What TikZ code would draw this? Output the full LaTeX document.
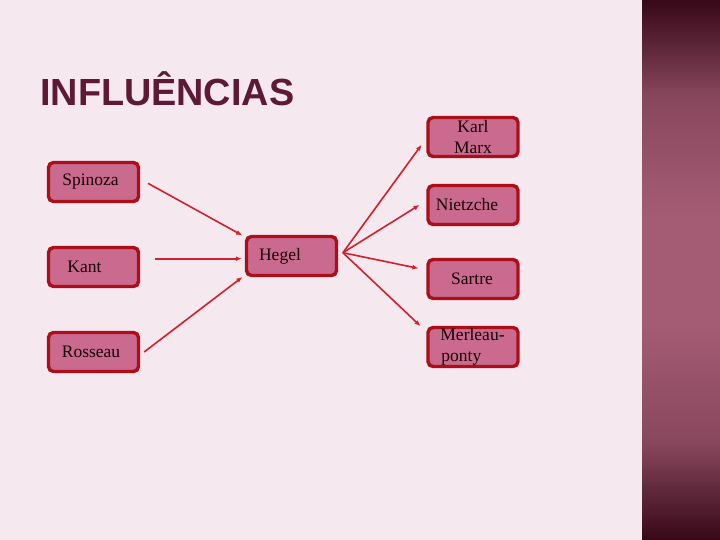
\documentclass[tikz,border=0pt]{standalone}
\usepackage{fontspec}
\setmainfont{Liberation Serif}
\newfontfamily\titlefont{Liberation Sans}
\usetikzlibrary{arrows.meta}
\definecolor{bgc}{HTML}{F5E8EF}
\definecolor{titlec}{HTML}{5E1A35}
\definecolor{boxfill}{HTML}{C96A8E}
\definecolor{boxline}{HTML}{AC0E1A}
\definecolor{arrc}{HTML}{D2202E}
\definecolor{paneldark}{HTML}{360818}
\definecolor{panelmid}{HTML}{A45C74}
\pgfdeclareverticalshading{panelshade}{100bp}{
  color(0bp)=(paneldark); color(25bp)=(paneldark); color(34bp)=(panelmid!75!paneldark); color(45bp)=(panelmid);
  color(55bp)=(panelmid); color(66bp)=(panelmid!75!paneldark); color(75bp)=(paneldark); color(100bp)=(paneldark)}
\tikzset{
  box/.style={draw=boxline, line width=3.4pt, fill=boxfill, rounded corners=5pt,
    minimum width=90pt, minimum height=39pt, inner sep=0pt,
    font=\fontsize{17.5}{21}\selectfont, text=black!90!red, align=center},
  arr/.style={draw=arrc, line width=1.6pt, -{Latex[length=6pt,width=5pt]}},
}
\begin{document}
\begin{tikzpicture}[x=1pt,y=1pt]
\useasboundingbox (0,0) rectangle (720,-540);
\fill[bgc] (0,0) rectangle (720,-540);
% right panel
\shade[shading=panelshade] (642,0) rectangle (720,-540);
% title
\node[anchor=base west, inner sep=0pt, text=titlec, font=\titlefont\bfseries\fontsize{37.8}{40}\selectfont] (title) at (40,-106) {INFLUÊNCIAS};
% left boxes
\node[box] (sp) at (93.5,-182) {\hspace*{-6pt}\raisebox{-2pt}{Spinoza}};
\node[box] (ka) at (93.5,-267) {\hspace*{-18pt}\raisebox{-6pt}{Kant}};
\node[box] (ro) at (93.5,-352) {\hspace*{-5pt}\raisebox{-1pt}{Rosseau}};
\node[box] (he) at (291.5,-256) {\hspace*{-23pt}\raisebox{0pt}{Hegel}};
% right boxes
\node[box] (km) at (473,-137) {Karl\\Marx};
\node[box] (ni) at (473,-205) {\hspace*{-12pt}\raisebox{-2pt}{Nietzche}};
\node[box] (sa) at (473,-279) {\hspace*{-2pt}\raisebox{-1pt}{Sartre}};
\node[box, align=left] (me) at (473,-347) {\hspace*{-1pt}Merleau-\\ponty};
% arrows into Hegel
\draw[arr, shorten <=9pt, shorten >=3pt] ([yshift=3pt]sp.east) -- ([yshift=-2pt]he.north west);
\draw[arr, shorten <=15pt, shorten >=3pt] ([yshift=8.3pt]ka.east) -- ([yshift=-2.7pt]he.west);
\draw[arr, shorten <=5pt, shorten >=3pt] ([yshift=-3pt]ro.east) -- ([yshift=2pt]he.south west);
% arrows out of Hegel
\coordinate (hs) at ([xshift=4.7pt,yshift=3.3pt]he.east);
\draw[arr, shorten >=8pt] (hs) -- ([yshift=-1.3pt]km.west);
\draw[arr, shorten >=8pt] (hs) -- ([yshift=4.3pt]ni.west);
\draw[arr, shorten >=8pt] (hs) -- ([yshift=9pt]sa.west);
\draw[arr, shorten >=8pt] (hs) -- ([yshift=-5.8pt]me.north west);
\end{tikzpicture}
\end{document}
